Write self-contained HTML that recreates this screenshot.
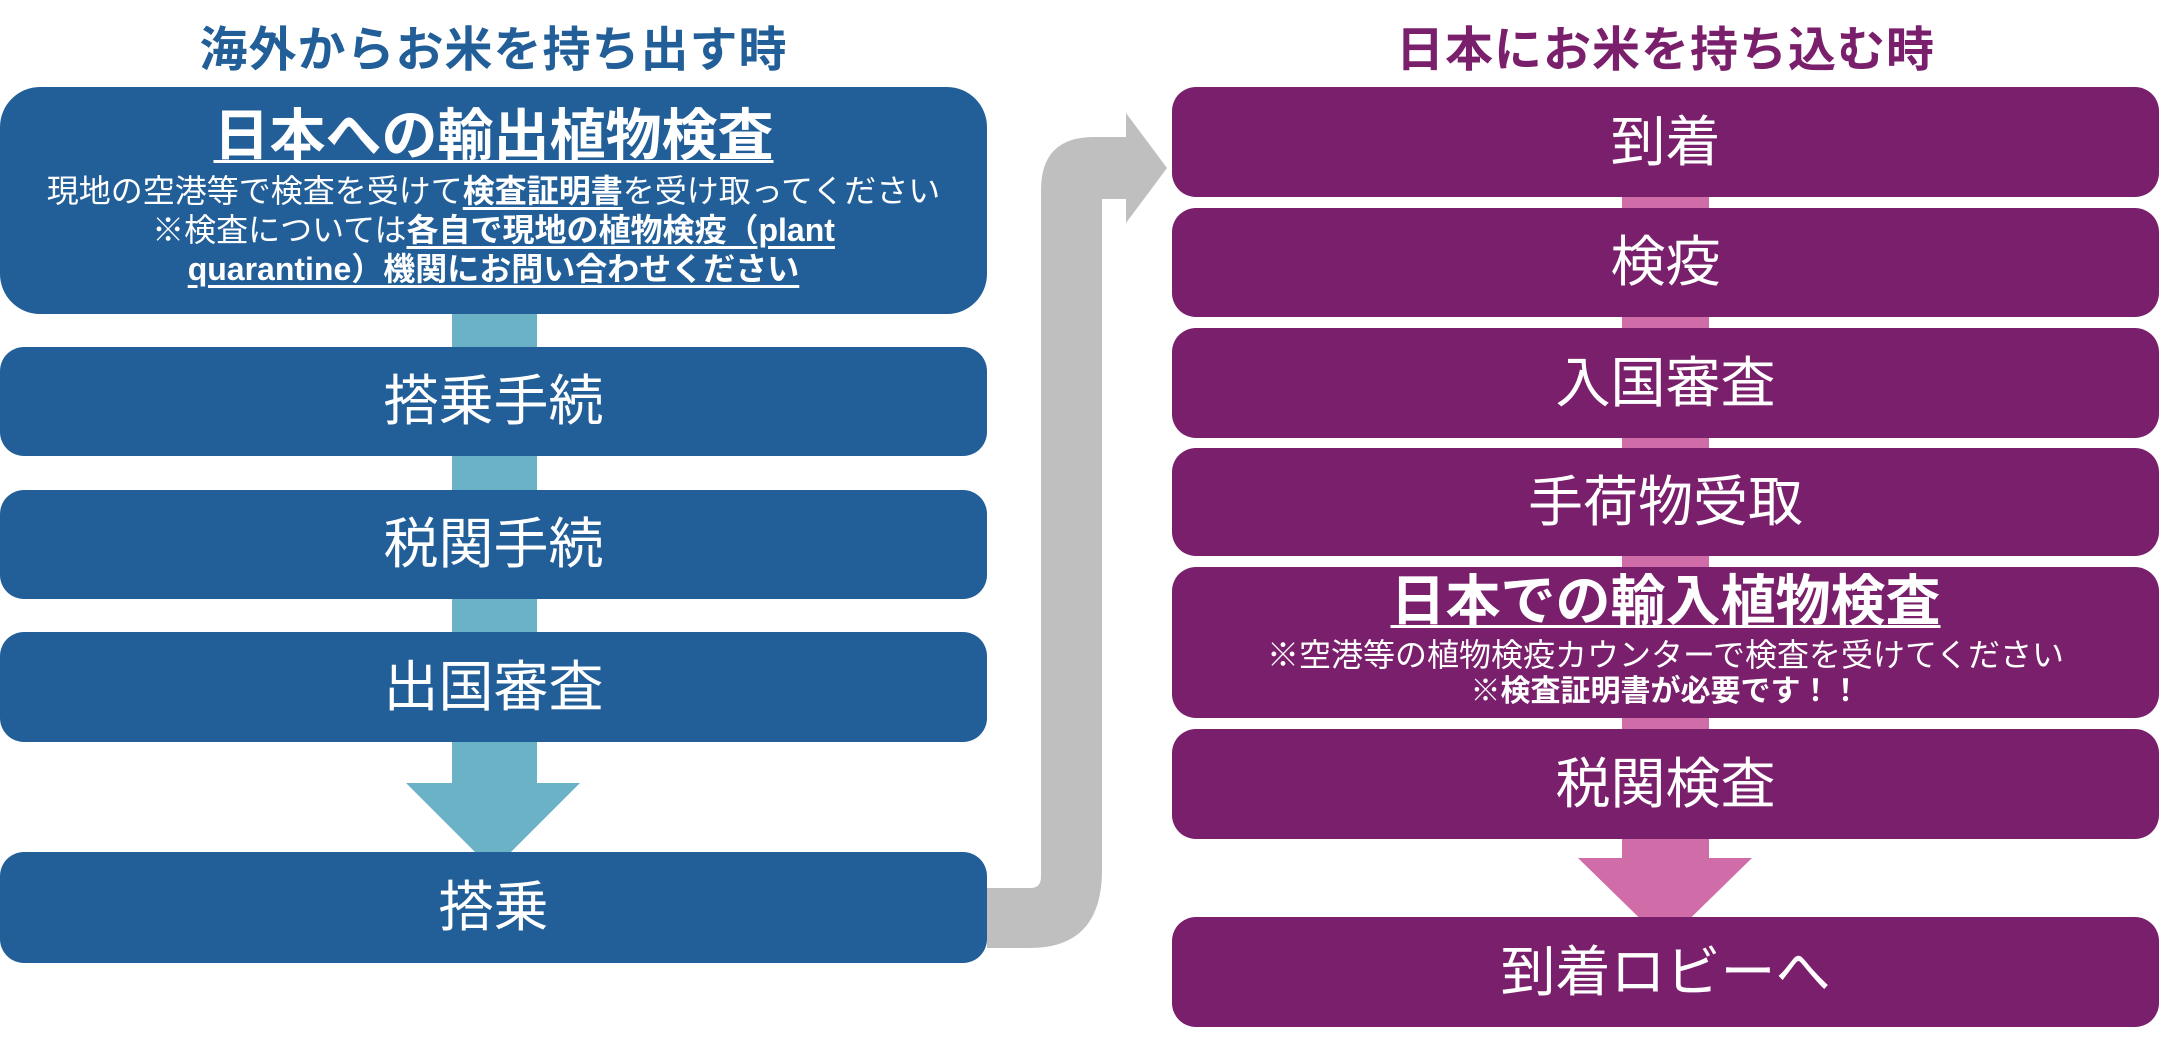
<!DOCTYPE html>
<html><head><meta charset="utf-8"><style>
body{margin:0;width:2159px;height:1039px;background:#fff;position:relative;overflow:hidden;font-family:"Liberation Sans","Noto Sans CJK JP",sans-serif;}
.b{position:absolute;display:flex;flex-direction:column;align-items:center;justify-content:center;color:#fff;text-align:center;}
.bl{background:#225f99;left:0;width:987px;border-radius:24px;}
.pu{background:#7a1f6b;left:1172px;width:987px;border-radius:24px;}
.t{font-size:55px;line-height:1;}
.title{position:absolute;top:10px;font-size:48px;font-weight:bold;text-align:center;width:987px;letter-spacing:1px;}
u{text-decoration-thickness:3px;text-underline-offset:5px;}
</style></head><body>
<svg width="2159" height="1039" style="position:absolute;left:0;top:0">
<rect x="452" y="300" width="85" height="500" fill="#6cb2c7"/>
<polygon points="406,783 580,783 493,870" fill="#6cb2c7"/>
<rect x="1622" y="190" width="87" height="680" fill="#d06ca8"/>
<polygon points="1578,858 1752,858 1665,943" fill="#d06ca8"/>
<path d="M987,888 L1030,888 Q1041,888 1041,877 L1041,190 Q1041,137 1094,137 L1126,137 L1126,113 L1167,168 L1126,223 L1126,199 L1102,199 L1102,870 Q1102,948 1030,948 L987,948 Z" fill="#bfbfbf"/>
</svg>
<div class="title" style="left:0;color:#225f99">海外からお米を持ち出す時</div>
<div class="title" style="left:1172px;color:#7a1f6b">日本にお米を持ち込む時</div>

<div class="b bl" style="top:87px;height:227px;border-radius:40px;justify-content:flex-start">
<div style="font-size:56px;font-weight:bold;margin-top:18px;line-height:1.1"><u>日本への輸出植物検査</u></div>
<div style="font-size:32px;line-height:39px;margin-top:5px">現地の空港等で検査を受けて<b><u>検査証明書</u></b>を受け取ってください<br>※検査については<b><u>各自で現地の植物検疫（plant<br>quarantine）機関にお問い合わせください</u></b></div>
</div>
<div class="b bl" style="top:347px;height:109px"><div class="t">搭乗手続</div></div>
<div class="b bl" style="top:490px;height:109px"><div class="t">税関手続</div></div>
<div class="b bl" style="top:632px;height:110px"><div class="t">出国審査</div></div>
<div class="b bl" style="top:852px;height:111px"><div class="t">搭乗</div></div>

<div class="b pu" style="top:87px;height:110px"><div class="t">到着</div></div>
<div class="b pu" style="top:208px;height:109px"><div class="t">検疫</div></div>
<div class="b pu" style="top:328px;height:110px"><div class="t">入国審査</div></div>
<div class="b pu" style="top:448px;height:108px"><div class="t">手荷物受取</div></div>
<div class="b pu" style="top:567px;height:151px;justify-content:flex-start">
<div style="font-size:55px;font-weight:bold;margin-top:4px;line-height:1.1"><u>日本での輸入植物検査</u></div>
<div style="font-size:32px;line-height:38px;margin-top:4px">※空港等の植物検疫カウンターで検査を受けてください</div>
<div style="font-size:30px;line-height:36px;font-weight:bold">※検査証明書が必要です！！</div>
</div>
<div class="b pu" style="top:729px;height:110px"><div class="t">税関検査</div></div>
<div class="b pu" style="top:917px;height:110px"><div class="t">到着ロビーへ</div></div>
</body></html>
